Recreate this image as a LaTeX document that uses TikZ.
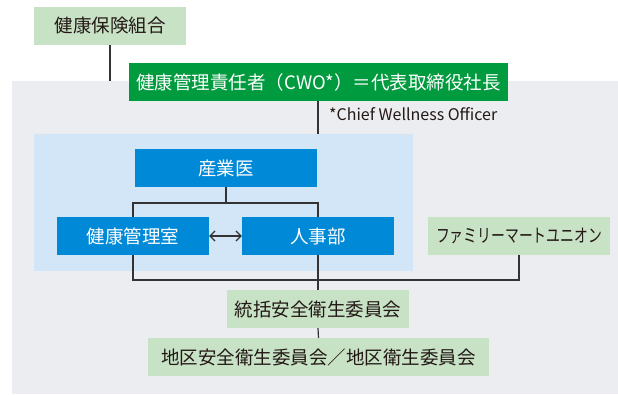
\documentclass[tikz,border=0pt]{standalone}
\usepackage{fontspec}
\usepackage{graphicx}
\setmainfont{Noto Sans CJK JP}
\usetikzlibrary{arrows.meta}
\definecolor{lgreen}{HTML}{C8E2C6}
\definecolor{dgreen}{HTML}{009B3F}
\definecolor{cblue}{HTML}{0089D6}
\definecolor{lblue}{HTML}{D3E6F7}
\definecolor{bggray}{HTML}{ECEDF0}
\definecolor{txt}{HTML}{231815}
\definecolor{ln}{HTML}{333333}
\begin{document}
\begin{tikzpicture}[x=1pt,y=-1pt,
  base/.style={rectangle, inner sep=0pt, minimum height=38pt, font=\fontsize{18.5}{20}\selectfont},
  gbox/.style={base, fill=lgreen, text=txt},
  dbox/.style={base, fill=dgreen, text=white},
  bbox/.style={base, fill=cblue, text=white},
  conn/.style={draw=ln, line width=1.2pt}]
\useasboundingbox (0,0) rectangle (618,395);
\fill[bggray] (12,81) rectangle (618,394);
\fill[lblue] (34,134) rectangle (413,271);
\node[gbox, minimum width=152pt] (kumiai) at (110,26) {健康保険組合};
\node[dbox, minimum width=379pt] (cwo) at (318.5,82) {健康管理責任者（CWO*）＝代表取締役社長};
\node[anchor=west, inner sep=0pt, text=txt, font=\fontsize{16}{18}\selectfont] (note) at (329,114) {*Chief Wellness Officer};
\node[bbox, minimum width=182pt] (sangyoi) at (226,168) {産業医};
\node[bbox, minimum width=152pt] (kenko) at (133,236) {健康管理室};
\node[bbox, minimum width=152pt] (jinji) at (318,236) {人事部};
\node[gbox, minimum width=182pt] (fm) at (519,236) {\resizebox{166pt}{\height}{ファミリーマートユニオン}};
\node[gbox, minimum width=182pt] (tokatsu) at (318,309) {統括安全衛生委員会};
\node[gbox, minimum width=341pt] (chiku) at (318.5,357) {地区安全衛生委員会／地区衛生委員会};
\coordinate (gtop) at (110,81);
\coordinate (btop) at (318,134);
\draw[conn] (kumiai.south) -- (gtop);
\draw[conn] (cwo.south -| btop) -- (btop);
\draw[conn] (sangyoi.south) -- (226,203);
\draw[conn] (kenko.north) -- (kenko.north |- 0,203) -| (jinji.north);
\draw[conn] (kenko.south) -- (kenko.south |- 0,280) -| (fm.south);
\draw[conn] (jinji.south) -- (tokatsu.north);
\draw[conn] (tokatsu.south) -- (chiku.north);
\draw[conn, {Straight Barb[length=5pt,width=10pt]}-{Straight Barb[length=5pt,width=10pt]}] (kenko.east) -- (jinji.west);
\end{tikzpicture}
\end{document}
